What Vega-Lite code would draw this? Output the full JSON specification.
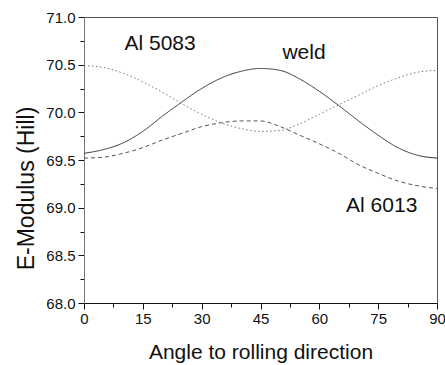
{
  "$schema": "https://vega.github.io/schema/vega-lite/v6.json",
  "width": 353,
  "height": 286,
  "autosize": {"type": "none"},
  "padding": {"left": 84, "top": 17, "right": 8, "bottom": 62},
  "background": "white",
  "config": {
    "font": "Liberation Sans",
    "view": {"stroke": "#555", "strokeWidth": 1},
    "axis": {"grid": false, "labelFont": "Liberation Sans", "titleFont": "Liberation Sans", "labelColor": "#111", "titleColor": "#111", "titleFontWeight": "normal", "tickColor": "#111", "tickWidth": 1, "domainColor": "#333"}
  },
  "datasets": {
    "curves": [
      {"angle": 0, "value": 69.57, "series": "weld"},
      {"angle": 5, "value": 69.61, "series": "weld"},
      {"angle": 10, "value": 69.68, "series": "weld"},
      {"angle": 15, "value": 69.80, "series": "weld"},
      {"angle": 20, "value": 69.96, "series": "weld"},
      {"angle": 25, "value": 70.11, "series": "weld"},
      {"angle": 30, "value": 70.25, "series": "weld"},
      {"angle": 35, "value": 70.36, "series": "weld"},
      {"angle": 40, "value": 70.43, "series": "weld"},
      {"angle": 45, "value": 70.46, "series": "weld"},
      {"angle": 50, "value": 70.44, "series": "weld"},
      {"angle": 55, "value": 70.35, "series": "weld"},
      {"angle": 60, "value": 70.22, "series": "weld"},
      {"angle": 65, "value": 70.07, "series": "weld"},
      {"angle": 70, "value": 69.91, "series": "weld"},
      {"angle": 75, "value": 69.76, "series": "weld"},
      {"angle": 80, "value": 69.63, "series": "weld"},
      {"angle": 85, "value": 69.55, "series": "weld"},
      {"angle": 90, "value": 69.52, "series": "weld"},
      {"angle": 0, "value": 69.52, "series": "Al 6013"},
      {"angle": 5, "value": 69.53, "series": "Al 6013"},
      {"angle": 10, "value": 69.57, "series": "Al 6013"},
      {"angle": 15, "value": 69.63, "series": "Al 6013"},
      {"angle": 20, "value": 69.71, "series": "Al 6013"},
      {"angle": 25, "value": 69.78, "series": "Al 6013"},
      {"angle": 30, "value": 69.85, "series": "Al 6013"},
      {"angle": 35, "value": 69.89, "series": "Al 6013"},
      {"angle": 40, "value": 69.91, "series": "Al 6013"},
      {"angle": 45, "value": 69.91, "series": "Al 6013"},
      {"angle": 50, "value": 69.85, "series": "Al 6013"},
      {"angle": 55, "value": 69.76, "series": "Al 6013"},
      {"angle": 60, "value": 69.67, "series": "Al 6013"},
      {"angle": 65, "value": 69.57, "series": "Al 6013"},
      {"angle": 70, "value": 69.45, "series": "Al 6013"},
      {"angle": 75, "value": 69.36, "series": "Al 6013"},
      {"angle": 80, "value": 69.28, "series": "Al 6013"},
      {"angle": 85, "value": 69.23, "series": "Al 6013"},
      {"angle": 90, "value": 69.20, "series": "Al 6013"},
      {"angle": 0, "value": 70.49, "series": "Al 5083"},
      {"angle": 5, "value": 70.47, "series": "Al 5083"},
      {"angle": 10, "value": 70.41, "series": "Al 5083"},
      {"angle": 15, "value": 70.32, "series": "Al 5083"},
      {"angle": 20, "value": 70.21, "series": "Al 5083"},
      {"angle": 25, "value": 70.09, "series": "Al 5083"},
      {"angle": 30, "value": 69.98, "series": "Al 5083"},
      {"angle": 35, "value": 69.89, "series": "Al 5083"},
      {"angle": 40, "value": 69.83, "series": "Al 5083"},
      {"angle": 45, "value": 69.80, "series": "Al 5083"},
      {"angle": 50, "value": 69.81, "series": "Al 5083"},
      {"angle": 55, "value": 69.88, "series": "Al 5083"},
      {"angle": 60, "value": 69.98, "series": "Al 5083"},
      {"angle": 65, "value": 70.08, "series": "Al 5083"},
      {"angle": 70, "value": 70.18, "series": "Al 5083"},
      {"angle": 75, "value": 70.28, "series": "Al 5083"},
      {"angle": 80, "value": 70.36, "series": "Al 5083"},
      {"angle": 85, "value": 70.42, "series": "Al 5083"},
      {"angle": 90, "value": 70.44, "series": "Al 5083"}
    ],
    "labels": [
      {"angle": 19.4, "value": 70.72, "text": "Al 5083"},
      {"angle": 56.1, "value": 70.62, "text": "weld"},
      {"angle": 75.9, "value": 69.02, "text": "Al 6013"}
    ]
  },
  "encoding": {
    "x": {
      "field": "angle", "type": "quantitative",
      "scale": {"domain": [0, 90], "nice": false, "zero": false},
      "axis": {
        "title": "Angle to rolling direction",
        "titleFontSize": 21,
        "titleBaseline": "alphabetic",
        "titleY": 55,
        "values": [0, 7.5, 15, 22.5, 30, 37.5, 45, 52.5, 60, 67.5, 75, 82.5, 90],
        "labelExpr": "datum.value % 15 == 0 ? format(datum.value, 'd') : ''",
        "labelFontSize": 15,
        "labelPadding": 2,
        "labelFlush": false,
        "labelOverlap": false,
        "tickSize": {"condition": {"test": "datum.value % 15 == 0", "value": 6}, "value": 4},
        "domainColor": "#111"
      }
    },
    "y": {
      "field": "value", "type": "quantitative",
      "scale": {"domain": [68, 71], "nice": false, "zero": false},
      "axis": {
        "title": "E-Modulus (Hill)",
        "titleFontSize": 23,
        "titleBaseline": "alphabetic",
        "titleX": -51,
        "titleY": 171,
        "values": [68, 68.25, 68.5, 68.75, 69, 69.25, 69.5, 69.75, 70, 70.25, 70.5, 70.75, 71],
        "labelExpr": "datum.value % 0.5 == 0 ? format(datum.value, '.1f') : ''",
        "labelFontSize": 15,
        "labelPadding": 3,
        "labelFlush": false,
        "labelOverlap": false,
        "tickSize": {"condition": {"test": "datum.value % 0.5 == 0", "value": 6}, "value": 4},
        "domainColor": "#777"
      }
    }
  },
  "layer": [
    {
      "data": {"name": "curves"},
      "mark": {"type": "line", "interpolate": "monotone", "strokeWidth": 1, "clip": true},
      "encoding": {
        "detail": {"field": "series"},
        "color": {
          "field": "series", "type": "nominal", "legend": null,
          "scale": {"domain": ["weld", "Al 6013", "Al 5083"], "range": ["#333333", "#555555", "#777777"]}
        },
        "strokeDash": {
          "field": "series", "type": "nominal", "legend": null,
          "scale": {"domain": ["weld", "Al 6013", "Al 5083"], "range": [[1, 0], [4, 3], [1.5, 2.5]]}
        }
      }
    },
    {
      "data": {"name": "labels"},
      "mark": {"type": "text", "fontSize": 21, "font": "Liberation Sans", "color": "#111", "align": "center", "baseline": "middle"},
      "encoding": {
        "text": {"field": "text"}
      }
    }
  ]
}
